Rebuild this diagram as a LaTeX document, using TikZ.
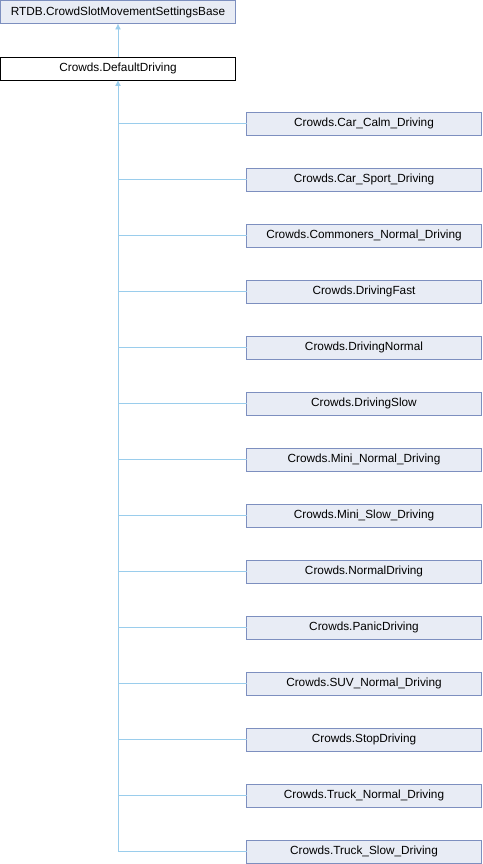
\documentclass[tikz,border=0pt]{standalone}
\usepackage{fontspec}
\setmainfont{Liberation Sans}
\usetikzlibrary{
  positioning,
  arrows.meta
}
\definecolor{boxfill}{HTML}{E8ECF5}
\definecolor{boxline}{HTML}{7D8FBF}
\definecolor{edgeblue}{HTML}{9ACDEC}
\tikzset{
  x=1pt, y=-1pt,
  node distance=33pt,
  cls/.style={draw=boxline, fill=boxfill, minimum width=235pt, minimum height=23pt,
    inner sep=0pt, outer sep=0pt, font=\fontsize{11.8}{13}\selectfont},
  cur/.style={cls, draw=black, fill=white},
  edge/.style={draw=edgeblue, line width=0.9pt},
  tip/.style={-{Latex[length=6pt,width=6pt]}}
}

\begin{document}
\begin{tikzpicture}
    \useasboundingbox (0,0) rectangle (482,864);

    \node[cls, anchor=north west] (base) at (0.5,0.5) {RTDB.CrowdSlotMovementSettingsBase};
    \node[cur, anchor=north west] (dd) at (0.5,57) {Crowds.DefaultDriving};

    \node[cls, anchor=west] (c1) at (246.5,123.5) {Crowds.Car\_Calm\_Driving};
    \node[cls, below=of c1] (c2) {Crowds.Car\_Sport\_Driving};
    \node[cls, below=of c2] (c3) {Crowds.Commoners\_Normal\_Driving};
    \node[cls, below=of c3] (c4) {Crowds.DrivingFast};
    \node[cls, below=of c4] (c5) {Crowds.DrivingNormal};
    \node[cls, below=of c5] (c6) {Crowds.DrivingSlow};
    \node[cls, below=of c6] (c7) {Crowds.Mini\_Normal\_Driving};
    \node[cls, below=of c7] (c8) {Crowds.Mini\_Slow\_Driving};
    \node[cls, below=of c8] (c9) {Crowds.NormalDriving};
    \node[cls, below=of c9] (c10) {Crowds.PanicDriving};
    \node[cls, below=of c10] (c11) {Crowds.SUV\_Normal\_Driving};
    \node[cls, below=of c11] (c12) {Crowds.StopDriving};
    \node[cls, below=of c12] (c13) {Crowds.Truck\_Normal\_Driving};
    \node[cls, below=of c13] (c14) {Crowds.Truck\_Slow\_Driving};

    % inheritance
    \draw[edge, tip] (dd) -- (base);
    \draw[edge, tip] (c14.west) -| (dd);
    \foreach \c in {c1,c2,c3,c4,c5,c6,c7,c8,c9,c10,c11,c12,c13}
      \draw[edge] (\c.west) -- (\c.west -| dd.south);
\end{tikzpicture}
\end{document}
